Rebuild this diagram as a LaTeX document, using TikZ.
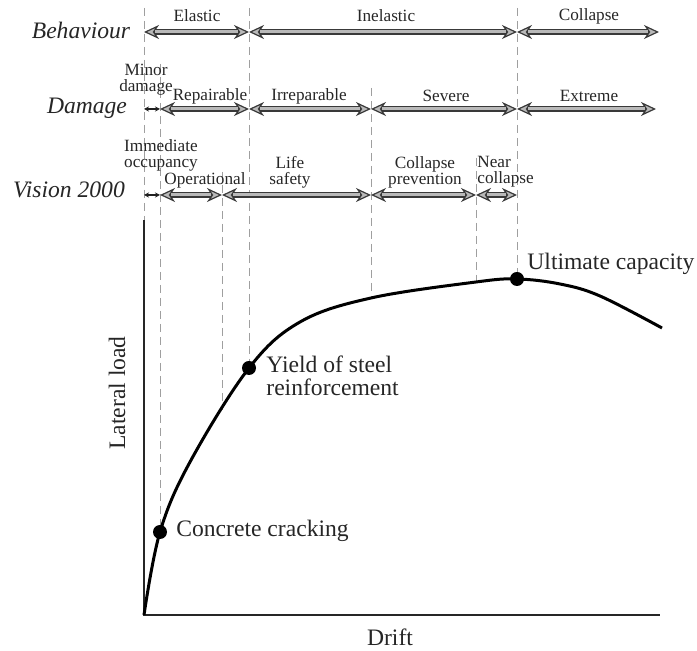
\documentclass[tikz,border=0pt]{standalone}
\usepackage{fontspec}
\setmainfont{Liberation Serif}
\usetikzlibrary{arrows.meta}
\begin{document}
\begin{tikzpicture}[x=0.5pt,y=-0.5pt,
  small/.style={font=\fontsize{8.6}{8}\selectfont, text=black!85, inner sep=0pt, align=center},
  big/.style={font=\fontsize{11.8}{11.5}\selectfont, text=black!85, inner sep=0pt, align=left},
  rowlabel/.style={font=\fontsize{11.8}{11}\selectfont\itshape, text=black!85, inner sep=0pt},
  guide/.style={draw=gray!75, line width=0.5pt, dash pattern=on 4pt off 2.5pt},
  garrow/.style={draw=gray!45!black, line width=2.8pt,
    {Stealth[length=7.5pt,width=7pt,inset=2.4pt,fill=gray!55,line width=0.6pt]}-{Stealth[length=7.5pt,width=7pt,inset=2.4pt,fill=gray!55,line width=0.6pt]},
    postaction={draw=gray!55, line width=1.5pt, -, shorten <=5.5pt, shorten >=5.5pt}},
  tinyarrow/.style={draw=gray!25!black, line width=0.8pt,
    {Stealth[length=2.5pt,width=2.5pt]}-{Stealth[length=2.5pt,width=2.5pt]}},
  dot/.style={circle, fill=black, inner sep=0pt, minimum size=7pt}
]
\useasboundingbox (0,0) rectangle (697,651);

% ---- axes ----
\coordinate (O) at (144,615);
\coordinate (Ytop) at (144,220);
\coordinate (Xend) at (660,615);
\draw[line width=0.8pt, gray!30!black] (Ytop) -- (O) -- (Xend);

% ---- key points ----
\node[dot] (crack) at (160,532) {};
\node[dot] (yield) at (249,368) {};
\node[dot] (ult) at (517,279) {};
\coordinate (c222) at (222,410);
\coordinate (c371) at (371,298);
\coordinate (c476) at (476,282);

% ---- guide lines ----
\coordinate (g144t) at (144,8);
\coordinate (g160t) at (160,64);
\coordinate (g222t) at (222,172);
\coordinate (g249t) at (249,8);
\coordinate (g371t) at (371,88);
\coordinate (g476t) at (476,158);
\coordinate (g516t) at (517,8);
\draw[guide] (g144t) -- (Ytop);
\draw[guide] (g160t) -- (crack);
\draw[guide] (g222t) -- (c222);
\draw[guide] (g249t) -- (yield);
\draw[guide] (g371t) -- (c371);
\draw[guide] (g476t) -- (c476);
\draw[guide] (g516t) -- (ult);

% ---- curve ----
\draw[line width=1.5pt, line join=round] plot[smooth, tension=0.6] coordinates {
 (144,615) (160,532) (190,462) (249,368) (300,322)
 (371,298) (476,282) (517,279) (560,284) (600,296) (662,328)};

% ---- row labels ----
\node[rowlabel] (rb) at (81,30) {Behaviour};
\node[rowlabel] (rd) at (87,108) {Damage};
\node[rowlabel] (rv) at (69,190) {Vision 2000};

% ---- behaviour arrows ----
\coordinate (b0) at (144,32);
\coordinate (b1) at (249,32);
\coordinate (b2) at (517,32);
\coordinate (b3) at (659,32);
\draw[garrow] (b0) -- (b1);
\draw[garrow] (b1) -- (b2);
\draw[garrow] (b2) -- (b3);
\node[small] (lel) at (197,16) {Elastic};
\node[small] (lin) at (386,16) {Inelastic};
\node[small] (lco) at (589,16) {Collapse};

% ---- damage arrows ----
\coordinate (d0) at (144,109);
\coordinate (d1) at (160,109);
\coordinate (d2) at (249,109);
\coordinate (d3) at (371,109);
\coordinate (d4) at (517,109);
\coordinate (d5) at (656,109);
\draw[tinyarrow] (d0) -- (d1);
\draw[garrow] (d1) -- (d2);
\draw[garrow] (d2) -- (d3);
\draw[garrow] (d3) -- (d4);
\draw[garrow] (d4) -- (d5);
\node[small] (lmi) at (146,80) {Minor\\damage};
\node[small] (lre) at (210,96) {Repairable};
\node[small] (lir) at (309,96) {Irreparable};
\node[small] (lse) at (446,96) {Severe};
\node[small] (lex) at (589,96) {Extreme};

% ---- vision 2000 arrows ----
\coordinate (v0) at (144,195);
\coordinate (v1) at (160,195);
\coordinate (v2) at (222,195);
\coordinate (v3) at (371,195);
\coordinate (v4) at (476,195);
\coordinate (v5) at (517,195);
\draw[tinyarrow] (v0) -- (v1);
\draw[garrow] (v1) -- (v2);
\draw[garrow] (v2) -- (v3);
\draw[garrow] (v3) -- (v4);
\draw[garrow] (v4) -- (v5);
\node[small] (lim) at (161,155) {Immediate\\occupancy};
\node[small] (lop) at (205,180) {Operational};
\node[small] (lls) at (290,172) {Life\\safety};
\node[small] (lcp) at (425,172) {Collapse\\prevention};
\node[small, align=left, anchor=west] (lnc) at (477,172) {Near\\collapse};

% ---- point labels ----
\node[big, anchor=west] (tcr) at (176,531) {Concrete cracking};
\node[big, anchor=west] (tyi) at (266,376) {Yield of steel\\reinforcement};
\node[big, anchor=west] (tul) at (527,264) {Ultimate capacity};

% ---- axis labels ----
\node[big, rotate=90] (ly) at (117,393) {Lateral load};
\node[big] (lx) at (390,637) {Drift};
\end{tikzpicture}
\end{document}
